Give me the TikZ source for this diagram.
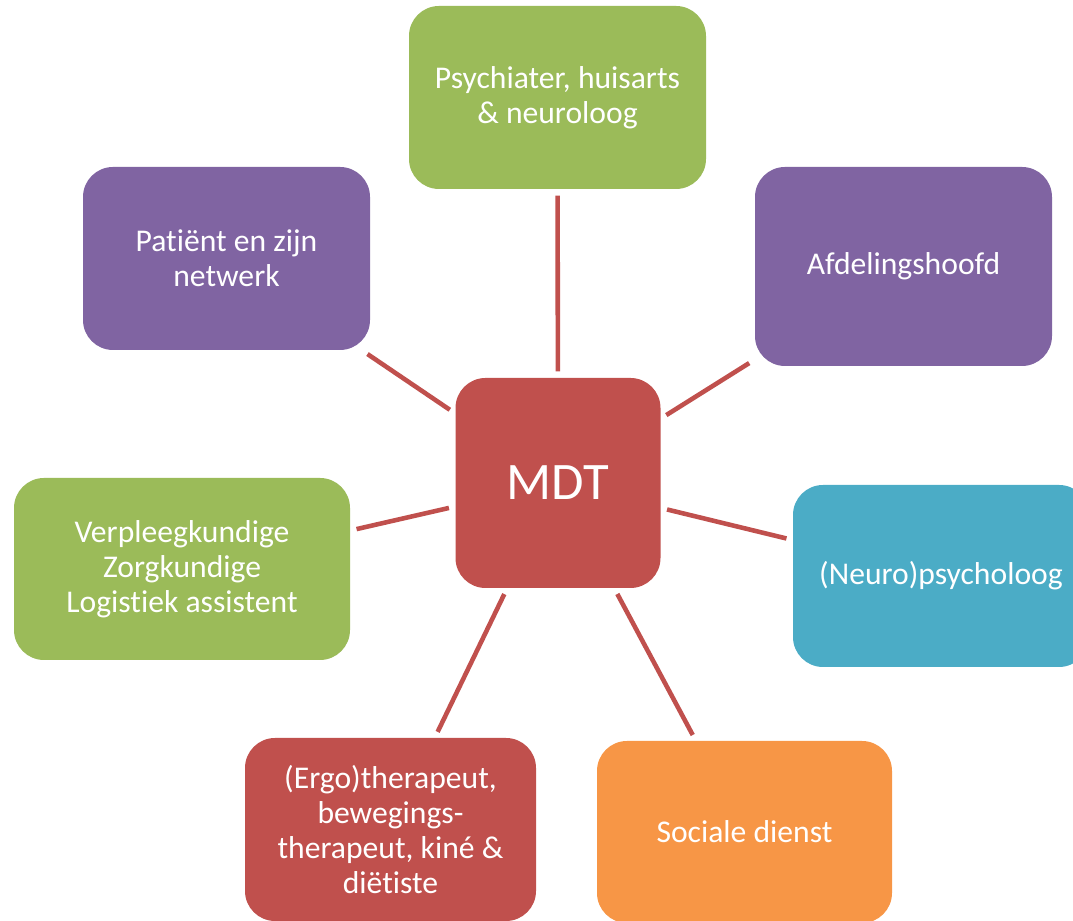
\documentclass[tikz,border=0pt]{standalone}
\usepackage{fontspec}
\setmainfont{Carlito}[Ligatures=NoCommon]

\definecolor{mdtgreen}{HTML}{9BBB59}
\definecolor{mdtpurple}{HTML}{8064A2}
\definecolor{mdtred}{HTML}{C0504D}
\definecolor{mdtblue}{HTML}{4BACC6}
\definecolor{mdtorange}{HTML}{F79646}

\begin{document}
\begin{tikzpicture}[
    box/.style={rectangle, rounded corners=0.3cm, text=white, align=center,
      inner sep=0pt, font=\fontsize{9}{9.9}\selectfont},
    link/.style={draw=mdtred, line width=1.3pt, shorten <=0.06cm, shorten >=0.06cm}
  ]
  % page size of the reference, the blue box runs off the right edge
  \useasboundingbox (0,0) rectangle (10.73,9.21);
  \clip (0,0) rectangle (10.73,9.21);

  \node[box, fill=mdtred, minimum width=2.05cm, minimum height=2.10cm,
        font=\fontsize{15}{18}\selectfont] (mdt) at (5.58, 4.38) {MDT};

  \node[box, fill=mdtgreen,  minimum width=2.97cm, minimum height=1.83cm] (psych)   at (5.575, 8.235) {Psychiater, huisarts\\\& neuroloog};
  \node[box, fill=mdtpurple, minimum width=2.87cm, minimum height=1.83cm] (patient) at (2.265, 6.625) {Patiënt en zijn\\netwerk};
  \node[box, fill=mdtpurple, minimum width=2.97cm, minimum height=1.99cm] (head)    at (9.035, 6.545) {Afdelingshoofd};
  \node[box, fill=mdtgreen,  minimum width=3.36cm, minimum height=1.82cm] (nurse)   at (1.82, 3.52)   {Verpleegkundige\\Zorgkundige\\Logistiek assistent};
  \node[box, fill=mdtblue,   minimum width=2.96cm, minimum height=1.82cm] (neuro)   at (9.41, 3.45)   {(Neuro)psycholoog};
  \node[box, fill=mdtred,    minimum width=2.91cm, minimum height=1.83cm] (ergo)    at (3.905, 0.915) {(Ergo)therapeut,\\bewegings-\\therapeut, kiné \&\\diëtiste};
  \node[box, fill=mdtorange, minimum width=2.95cm, minimum height=1.82cm] (social)  at (7.445, 0.89)  {Sociale dienst};

  \draw[link] (mdt) -- (psych);
  \draw[link] (mdt) -- (patient);
  \draw[link] (mdt) -- (head);
  \draw[link] (mdt) -- (nurse);
  \draw[link] (mdt) -- (neuro);
  \draw[link] (mdt) -- (ergo);
  \draw[link] (mdt) -- (social);
\end{tikzpicture}
\end{document}
